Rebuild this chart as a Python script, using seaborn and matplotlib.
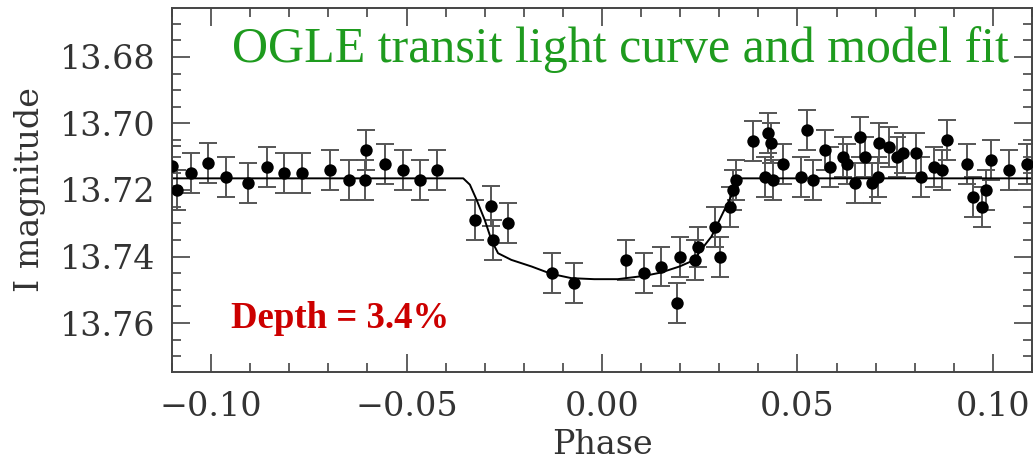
import numpy as np
import pandas as pd
import matplotlib
matplotlib.use("Agg")
import matplotlib.pyplot as plt
from matplotlib.ticker import MultipleLocator
import seaborn as sns

phase = [-0.1099, -0.1088, -0.1051, -0.1007, -0.0962, -0.0905, -0.0858, -0.0813,
         -0.0767, -0.0696, -0.0648, -0.0604, -0.0607, -0.0556, -0.0510, -0.0465,
         -0.0421, -0.0326, -0.0283, -0.0280, -0.0240, -0.0127, -0.0072, 0.0062,
         0.0107, 0.0152, 0.0192, 0.0200, 0.0237, 0.0245, 0.0290, 0.0301, 0.0328,
         0.0335, 0.0343, 0.0387, 0.0418, 0.0425, 0.0433, 0.0437, 0.0462, 0.0510,
         0.0525, 0.0539, 0.0571, 0.0584, 0.0616, 0.0628, 0.0646, 0.0661, 0.0673,
         0.0691, 0.0706, 0.0708, 0.0735, 0.0754, 0.0771, 0.0803, 0.0816, 0.0850,
         0.0869, 0.0882, 0.0933, 0.0950, 0.0971, 0.0982, 0.0996, 0.1042, 0.1087]
mag = [13.7129, 13.7199, 13.7149, 13.7118, 13.7161, 13.7179, 13.7131, 13.7149,
       13.7149, 13.7141, 13.7171, 13.7080, 13.7171, 13.7121, 13.7141, 13.7171,
       13.7141, 13.7289, 13.7249, 13.7350, 13.7299, 13.7450, 13.7480, 13.7410,
       13.7450, 13.7430, 13.7539, 13.7400, 13.7410, 13.7370, 13.7310, 13.7400,
       13.7251, 13.7199, 13.7171, 13.7052, 13.7161, 13.7030, 13.7060, 13.7171,
       13.7121, 13.7161, 13.7021, 13.7171, 13.7080, 13.7131, 13.7100, 13.7121,
       13.7179, 13.7040, 13.7100, 13.7179, 13.7161, 13.7060, 13.7070, 13.7100,
       13.7090, 13.7090, 13.7161, 13.7131, 13.7141, 13.7050, 13.7121, 13.7221,
       13.7251, 13.7201, 13.7111, 13.7141, 13.7121]
mag_err = 0.006

# model fit curve
model_phase = [-0.11, -0.0355, -0.0338, -0.0321, -0.0300, -0.0283, -0.0266, -0.0232,
               -0.0180, -0.0130, -0.0078, -0.0020, 0.0040, 0.0109, 0.0151, 0.0198,
               0.0237, 0.0250, 0.0280, 0.0313, 0.0330, 0.0347, 0.11]
model_mag = [13.7165, 13.7165, 13.7184, 13.7229, 13.7290, 13.7350, 13.7390, 13.7410,
             13.7430, 13.7452, 13.7465, 13.7468, 13.7468, 13.7458, 13.7448, 13.7430,
             13.7410, 13.7385, 13.7340, 13.7260, 13.7220, 13.7165, 13.7165]

x_ticks = [-0.10, -0.05, 0.00, 0.05, 0.10]
x_tick_labels = ['\u22120.10', '\u22120.05', '0.00', '0.05', '0.10']
y_ticks = [13.68, 13.70, 13.72, 13.74, 13.76]
y_tick_labels = ['13.68', '13.70', '13.72', '13.74', '13.76']

sns.set_style("ticks")
plt.rcParams['font.family'] = ['DejaVu Serif']

df = pd.DataFrame({'phase': phase, 'mag': mag})
model = pd.DataFrame({'phase': model_phase, 'mag': model_mag})

fig = plt.figure(figsize=(10.35, 4.62), dpi=100)
ax = fig.add_axes([0.1662, 0.1948, 0.8309, 0.7879])

sns.lineplot(data=model, x='phase', y='mag', ax=ax, color='black', lw=1.4,
             estimator=None, sort=False, zorder=2)
ax.errorbar(df['phase'], df['mag'], yerr=mag_err, fmt='none', ecolor='#555555',
            elinewidth=1.4, capsize=6.5, capthick=1.4, zorder=1)
sns.scatterplot(data=df, x='phase', y='mag', ax=ax, color='black', s=80,
                edgecolor='black', linewidth=0, zorder=3)

ax.set_xlim(-0.11, 0.11)
ax.set_ylim(13.7747, 13.6653)
ax.set_xticks(x_ticks)
ax.set_xticklabels(x_tick_labels)
ax.set_yticks(y_ticks)
ax.set_yticklabels(y_tick_labels)
ax.xaxis.set_minor_locator(MultipleLocator(0.01))
ax.yaxis.set_minor_locator(MultipleLocator(0.005))
ax.tick_params(which='both', direction='in', top=True, right=True,
               color='#444444', width=1.2, labelcolor='#333333')
ax.tick_params(which='major', length=13, labelsize=24)
ax.tick_params(which='minor', length=6.5)
ax.tick_params(axis='y', pad=12)
ax.tick_params(axis='x', pad=14)
for s in ax.spines.values():
    s.set_color('#444444')
    s.set_linewidth(1.4)

ax.set_xlabel('Phase', fontsize=24, color='#333333', labelpad=4)
ax.set_ylabel('I magnitude', fontsize=24, color='#333333', labelpad=10)

ax.text(0.521, 0.885, 'OGLE transit light curve and model fit', transform=ax.transAxes,
        ha='center', va='center', color='#1e9b1e', fontsize=36,
        family='Liberation Serif')
ax.text(0.195, 0.148, 'Depth = 3.4%', transform=ax.transAxes, ha='center',
        va='center', color='#cc0000', fontsize=26.5, fontweight='bold',
        family='Liberation Serif')

fig.savefig('out.png', dpi=100)
